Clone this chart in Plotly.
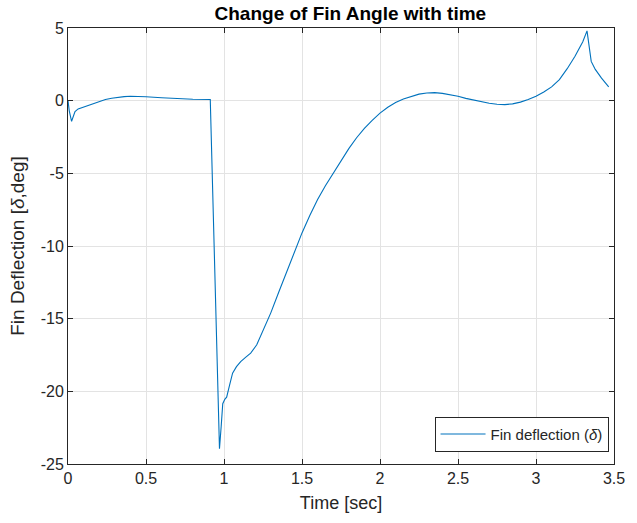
import plotly.graph_objects as go

time_s = [0.0, 0.008, 0.023, 0.032, 0.045, 0.065, 0.1, 0.15, 0.2, 0.24, 0.28, 0.32, 0.36, 0.4, 0.45, 0.5,
          0.6, 0.7, 0.8, 0.912, 0.971, 0.982, 0.992, 1.005, 1.017, 1.035, 1.055, 1.08, 1.107, 1.14,
          1.171, 1.21, 1.255, 1.3, 1.35, 1.4, 1.45, 1.5, 1.55, 1.6, 1.65, 1.7, 1.75, 1.8, 1.85, 1.9,
          1.95, 2.0, 2.05, 2.1, 2.15, 2.2, 2.25, 2.3, 2.35, 2.4, 2.45, 2.5, 2.55, 2.6, 2.65, 2.7,
          2.75, 2.8, 2.85, 2.9, 2.95, 3.0, 3.05, 3.1, 3.15, 3.2, 3.25, 3.3, 3.327, 3.34, 3.354,
          3.38, 3.42, 3.466]
deflection_deg = [0.0, -0.7, -1.42, -1.15, -0.75, -0.57, -0.43, -0.25, -0.07, 0.08, 0.17, 0.24, 0.28, 0.3,
                  0.29, 0.27, 0.2, 0.14, 0.1, 0.08, -23.95, -22.4, -20.85, -20.55, -20.4, -19.6,
                  -18.75, -18.3, -17.95, -17.65, -17.37, -16.8, -15.76, -14.6, -13.2, -11.8, -10.5,
                  -9.1, -7.9, -6.8, -5.85, -5.0, -4.1, -3.3, -2.55, -1.9, -1.35, -0.86, -0.45, -0.12,
                  0.12, 0.3, 0.45, 0.53, 0.55, 0.5, 0.42, 0.3, 0.16, 0.03, -0.08, -0.18, -0.25, -0.27,
                  -0.22, -0.1, 0.08, 0.3, 0.6, 0.95, 1.45, 2.2, 3.05, 4.05, 4.8, 3.8, 2.7, 2.15, 1.55, 0.95]

x_ticks = [0, 0.5, 1, 1.5, 2, 2.5, 3, 3.5]
x_tick_labels = ["0", "0.5", "1", "1.5", "2", "2.5", "3", "3.5"]
y_ticks = [-25, -20, -15, -10, -5, 0, 5]
y_tick_labels = ["-25", "-20", "-15", "-10", "-5", "0", "5"]

axis_color = "#262626"
font_family = "Liberation Sans, Arial, sans-serif"

fig = go.Figure()
fig.add_trace(go.Scatter(
    x=time_s, y=deflection_deg, mode="lines",
    line=dict(color="#0072BD", width=1.1),
    name="Fin deflection (<i>δ</i>)",
))

fig.update_layout(
    width=637, height=523,
    margin=dict(l=68, r=15, t=28, b=59),
    paper_bgcolor="white", plot_bgcolor="white",
    font=dict(family=font_family, color=axis_color, size=16),
    title=dict(text="<b>Change of Fin Angle with time</b>", x=0.55, xanchor="center",
               y=0.975, yanchor="middle", font=dict(size=19, color="black")),
    showlegend=True,
    legend=dict(x=0.99, y=0.028, xanchor="right", yanchor="bottom",
                bordercolor=axis_color, borderwidth=1, bgcolor="white",
                font=dict(size=15, color=axis_color), itemwidth=45,
                tracegroupgap=0),
)

fig.update_xaxes(
    range=[0, 3.5], tickvals=x_ticks, ticktext=x_tick_labels,
    showgrid=True, gridcolor="#e3e3e3", gridwidth=1,
    showline=True, linecolor=axis_color, linewidth=1, mirror="ticks",
    ticks="inside", ticklen=5, tickcolor=axis_color,
    zeroline=False, tickfont=dict(size=16),
    title=dict(text="Time [sec]", font=dict(size=18), standoff=10),
)
fig.update_yaxes(
    range=[-25, 5], tickvals=y_ticks, ticktext=y_tick_labels,
    showgrid=True, gridcolor="#e3e3e3", gridwidth=1,
    showline=True, linecolor=axis_color, linewidth=1, mirror="ticks",
    ticks="inside", ticklen=5, tickcolor=axis_color,
    zeroline=False, tickfont=dict(size=16),
    title=dict(text="Fin Deflection [<i>δ</i>,deg]", font=dict(size=19), standoff=11),
)

fig.write_html("out.html")
